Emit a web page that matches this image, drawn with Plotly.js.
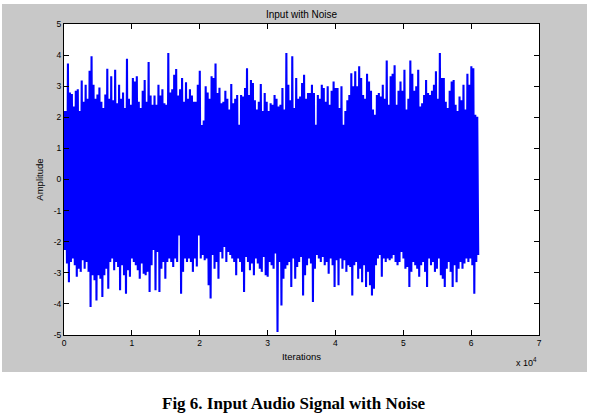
<!DOCTYPE html>
<html>
<head>
<meta charset="utf-8">
<script src="https://cdn.plot.ly/plotly-3.0.1.min.js"></script>
<style>
  html, body { margin: 0; padding: 0; background: #ffffff; }
  #wrap { position: relative; width: 590px; height: 419px; overflow: hidden; background: #ffffff; }
  #figbg { position: absolute; left: 2px; top: 4px; width: 585px; height: 368px; background: #c8c8c8; }
  #chart { position: absolute; left: 0; top: 0; width: 590px; height: 419px; }
</style>
</head>
<body>
<div id="wrap">
  <div id="figbg"></div>
  <div id="chart"></div>
</div>
<script>
// ---- Data (envelope of the noisy signal) ----
// Local maxima of the signal, left to right
const upperPeaks = [
  2.2,2.2,3.73,2.8,2.75,2.35,2.85,2.9,2.2,3.18,2.5,3.05,2.6,3.5,3.96,3.05,2.6,2.73,2.96,2.5,
  2.3,2.73,3.56,2.6,3.32,2.55,3.53,2.45,3.05,2.6,2.8,2.3,3.88,2.6,2.4,3.26,3.15,3.32,2.5,2.3,
  2.85,3.2,2.5,3.78,2.7,2.4,2.7,2.4,3.05,2.7,2.9,2.45,2.4,4.07,2.8,2.9,3.37,3.55,2.7,2.9,
  3.26,2.5,3.13,2.6,2.9,2.7,2.5,
  2.5,3.05,3.5,1.75,1.9,3.0,2.8,2.6,3.32,3.26,3.73,2.78,2.95,2.45,2.5,2.85,2.6,2.25,3.07,2.45,
  2.6,2.72,1.76,2.72,2.67,2.94,3.58,2.72,3.2,3.1,2.55,2.25,2.5,3.07,2.2,2.78,2.5,2.2,2.45,2.4,
  2.72,2.6,2.35,2.4,2.94,2.25,4.07,3.05,2.55,3.96,2.3,3.26,2.6,2.67,3.1,3.37,2.6,2.78,2.78,3.05,
  2.78,1.76,2.72,2.6,3.05,2.94,2.5,3.0,2.4,2.85,3.15,2.94,
  2.94,2.3,3.0,1.76,2.2,2.55,2.72,3.42,3.0,3.48,3.0,3.64,3.26,2.72,2.6,3.4,3.15,2.85,2.25,2.08,
  2.72,2.78,2.67,3.05,2.6,3.83,2.4,3.32,3.4,3.67,2.4,2.85,3.15,2.85,3.53,2.25,2.6,3.83,3.4,2.85,
  3.0,3.53,2.35,2.45,2.72,3.2,2.78,2.72,2.85,3.05,3.48,2.6,4.07,3.26,3.26,2.5,2.3,2.85,3.15,3.2,
  2.4,2.2,2.67,2.55,3.05,2.25,3.4,3.05,3.64,3.58,2.08,2.02
];
// Local minima of the signal, left to right
const lowerPeaks = [
  -2.27,-2.7,-3.3,-2.65,-2.54,-2.76,-3.13,-2.87,-2.97,-2.6,-2.87,-2.65,-2.97,-4.1,-3.08,-3.24,-3.89,-3.08,-3.19,-3.78,
  -3.08,-2.87,-3.51,-2.65,-2.54,-2.92,-2.65,-2.81,-3.56,-2.76,-3.08,-3.67,-2.92,-3.13,-2.54,-2.65,-2.76,-2.92,-3.19,-2.7,
  -3.03,-3.08,-2.97,-3.62,-2.76,-2.27,-3.56,-2.33,-3.62,-2.87,-2.65,-3.19,-2.65,-2.54,-2.65,-2.81,-2.54,-2.65,-1.8,-3.67,
  -2.97,-2.54,-2.65,-2.54,-2.65,-2.97,-2.54,
  -2.8,-1.8,-2.54,-2.43,-2.6,-2.54,-3.4,-3.83,-2.43,-2.87,-2.65,-3.19,-2.33,-2.54,-2.17,-2.65,-2.33,-2.43,-2.54,-2.65,
  -3.08,-2.54,-2.65,-2.97,-3.62,-2.49,-2.65,-2.92,-2.7,-3.08,-2.54,-2.7,-2.87,-2.97,-2.49,-3.08,-3.13,-2.65,-2.76,-2.87,
  -2.38,-4.9,-2.65,-4.05,-3.19,-2.87,-2.76,-2.65,-3.46,-2.54,-3.19,-2.81,-2.65,-2.49,-3.73,-3.08,-2.76,-2.54,-2.7,-3.94,
  -2.87,-2.43,-2.54,-2.65,-2.49,-2.76,-2.65,-3.03,-2.54,-2.76,-3.46,-2.6,
  -3.4,-2.54,-2.87,-2.6,-2.97,-2.76,-2.81,-3.73,-2.76,-2.65,-3.19,-2.87,-3.3,-2.76,-3.46,-2.97,-3.4,-3.73,-3.51,-2.76,
  -2.54,-2.43,-3.13,-2.54,-2.65,-2.54,-2.6,-2.54,-2.43,-2.65,-2.76,-2.65,-2.33,-2.54,-2.87,-2.81,-3.46,-2.97,-2.65,-2.76,
  -2.87,-3.13,-2.76,-2.65,-2.97,-3.46,-2.54,-2.76,-2.65,-2.97,-2.87,-2.54,-3.08,-3.19,-3.46,-2.87,-2.65,-2.97,-3.46,-2.76,
  -3.3,-2.87,-2.65,-2.87,-2.7,-2.54,-2.65,-2.54,-2.76,-3.67,-2.65,-2.43
];
const SAMPLES_PER_PEAK = 290;   // iterations between successive maxima
const xTickVals = [0,10000,20000,30000,40000,50000,60000,70000];
const xTickText = ['0','1','2','3','4','5','6','7'];
const yTickVals = [-5,-4,-3,-2,-1,0,1,2,3,4,5];
const yTickText = ['-5','-4','-3','-2','-1','0','1','2','3','4','5'];

// Build the oscillating signal: a maximum followed by a minimum
const xs = [], ys = [];
for (let i = 0; i < upperPeaks.length; i++) {
  xs.push(i * SAMPLES_PER_PEAK); ys.push(upperPeaks[i]);
  xs.push(i * SAMPLES_PER_PEAK + SAMPLES_PER_PEAK / 2); ys.push(lowerPeaks[i]);
}

const tickFont = { family: 'Arial, "Liberation Sans", sans-serif', size: 8.5, color: '#000' };
const labFont = { family: 'Arial, "Liberation Sans", sans-serif', size: 9.5, color: '#000' };

const trace = {
  type: 'scatter', mode: 'lines', x: xs, y: ys,
  line: { color: 'rgb(0,0,255)', width: 2.1 },
  hoverinfo: 'skip', showlegend: false
};

const layout = {
  width: 590, height: 419,
  margin: { l: 64, r: 51, t: 24, b: 84 },
  paper_bgcolor: 'rgba(0,0,0,0)',
  plot_bgcolor: '#ffffff',
  title: { text: 'Input with Noise', font: { family: 'Arial, "Liberation Sans", sans-serif', size: 10, color: '#000' },
           x: 0.5, xref: 'paper', y: 1 - 14/419, yref: 'container', yanchor: 'middle' },
  xaxis: {
    range: [0, 70000], tickvals: xTickVals, ticktext: xTickText,
    ticks: 'inside', ticklen: 5, tickcolor: '#000', showline: true, linecolor: '#000', linewidth: 1,
    mirror: 'ticks', showgrid: false, zeroline: false, tickfont: tickFont,
    title: { text: 'Iterations', font: labFont, standoff: 6 }
  },
  yaxis: {
    range: [-5, 5], tickvals: yTickVals, ticktext: yTickText,
    ticks: 'inside', ticklen: 5, tickcolor: '#000', showline: true, linecolor: '#000', linewidth: 1,
    mirror: 'ticks', showgrid: false, zeroline: false, tickfont: tickFont,
    title: { text: 'Amplitude', font: labFont, standoff: 8 }
  },
  annotations: [
    { text: 'x 10<sup>4</sup>', xref: 'paper', yref: 'paper', x: 1.0, y: -0.088, xanchor: 'right', yanchor: 'middle',
      showarrow: false, font: { family: 'Arial, "Liberation Sans", sans-serif', size: 9, color: '#000' } },
    { text: '<b>Fig 6. Input Audio Signal with Noise</b>', xref: 'paper', yref: 'paper', x: 0.485, y: -0.22,
      xanchor: 'center', yanchor: 'middle', showarrow: false,
      font: { family: '"Times New Roman", "Liberation Serif", serif', size: 17, color: '#000' } }
  ]
};

Plotly.newPlot('chart', [trace], layout, { staticPlot: true, displayModeBar: false });
</script>
</body>
</html>
